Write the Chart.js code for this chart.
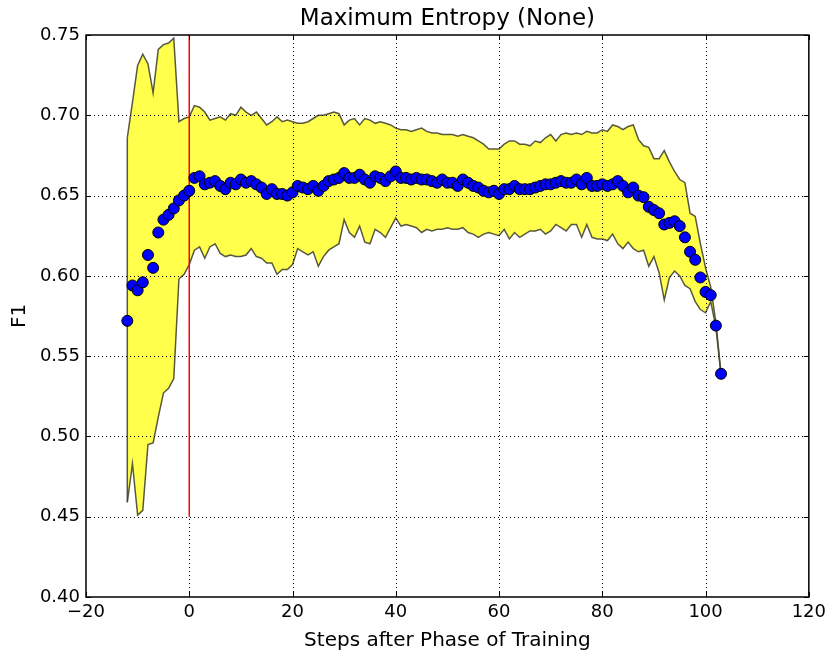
<!DOCTYPE html>
<html>
<head>
<meta charset="utf-8">
<script src="https://cdn.jsdelivr.net/npm/chart.js@4.4.1/dist/chart.umd.min.js"></script>
<style>
  body { margin: 0; background: #fff; }
  #wrap { width: 831px; height: 653px; }
</style>
</head>
<body>
<div id="wrap"><canvas id="myChart" width="831" height="653"></canvas></div>
<script>
// steps after phase of training
const steps = [-12,-11,-10,-9,-8,-7,-6,-5,-4,-3,-2,-1,0,1,2,3,4,5,6,7,8,9,10,11,12,13,14,15,16,17,18,19,20,21,22,23,24,25,26,27,28,29,30,31,32,33,34,35,36,37,38,39,40,41,42,43,44,45,46,47,48,49,50,51,52,53,54,55,56,57,58,59,60,61,62,63,64,65,66,67,68,69,70,71,72,73,74,75,76,77,78,79,80,81,82,83,84,85,86,87,88,89,90,91,92,93,94,95,96,97,98,99,100,101,102,103];

// mean F1 (blue dots)
const meanF1 = [0.572,0.594,0.591,0.596,0.613,0.605,0.627,0.635,0.638,0.642,0.647,0.650,
  0.653,0.661,0.662,0.657,0.658,0.659,0.656,0.654,0.658,0.657,0.660,0.658,0.659,0.657,0.655,0.651,0.654,0.651,0.651,0.650,
  0.652,0.656,0.655,0.654,0.656,0.653,0.656,0.659,0.660,0.661,0.664,0.661,0.661,0.663,0.660,0.658,0.662,0.661,0.659,0.662,
  0.665,0.661,0.661,0.660,0.661,0.660,0.660,0.659,0.658,0.660,0.658,0.658,0.656,0.660,0.658,0.656,0.655,0.653,0.652,0.653,
  0.651,0.654,0.654,0.656,0.654,0.654,0.654,0.655,0.656,0.657,0.657,0.658,0.659,0.658,0.658,0.660,0.657,0.661,0.656,0.656,
  0.657,0.656,0.657,0.659,0.656,0.652,0.655,0.650,0.649,0.643,0.641,0.639,0.632,0.633,0.634,0.631,0.624,0.615,0.610,0.599,
  0.590,0.588,0.569,0.539];

// upper edge of the band
const upperF1 = [0.686,0.708,0.731,0.738,0.732,0.714,0.741,0.744,0.745,0.748,0.696,0.698,
  0.699,0.706,0.705,0.702,0.697,0.698,0.699,0.697,0.701,0.700,0.705,0.702,0.700,0.702,0.698,0.694,0.696,0.699,0.696,0.697,
  0.696,0.695,0.695,0.696,0.698,0.700,0.700,0.701,0.702,0.701,0.694,0.697,0.698,0.694,0.698,0.697,0.695,0.696,0.695,0.694,
  0.692,0.691,0.691,0.690,0.691,0.692,0.690,0.689,0.689,0.688,0.688,0.688,0.687,0.688,0.687,0.686,0.684,0.682,0.679,0.679,
  0.679,0.682,0.684,0.684,0.682,0.682,0.681,0.684,0.683,0.686,0.688,0.684,0.688,0.689,0.688,0.689,0.688,0.690,0.689,0.689,
  0.691,0.690,0.694,0.693,0.691,0.693,0.694,0.685,0.681,0.680,0.673,0.673,0.678,0.671,0.665,0.660,0.658,0.639,0.637,0.620,
  0.605,0.593,0.571,0.539];

// lower edge of the band
const lowerF1 = [0.459,0.483,0.451,0.454,0.495,0.496,0.512,0.527,0.530,0.536,0.598,0.601,
  0.607,0.616,0.618,0.611,0.618,0.620,0.614,0.612,0.613,0.612,0.612,0.613,0.617,0.612,0.611,0.608,0.608,0.601,0.604,0.604,
  0.607,0.617,0.615,0.613,0.615,0.606,0.612,0.616,0.618,0.620,0.635,0.627,0.624,0.631,0.621,0.620,0.629,0.627,0.624,0.630,
  0.636,0.631,0.632,0.631,0.630,0.627,0.629,0.628,0.629,0.629,0.630,0.629,0.629,0.630,0.627,0.626,0.624,0.626,0.627,0.626,
  0.625,0.629,0.623,0.627,0.624,0.626,0.628,0.628,0.629,0.626,0.628,0.632,0.630,0.628,0.632,0.632,0.624,0.632,0.624,0.623,
  0.623,0.622,0.626,0.620,0.617,0.621,0.617,0.615,0.616,0.606,0.612,0.602,0.585,0.599,0.603,0.600,0.594,0.592,0.584,0.579,
  0.577,0.584,0.568,0.538];

// red marker line (phase boundary)
const phaseX = [0, 0];
const phaseY = [0.45, 0.75];

const xTicks = [-20, 0, 20, 40, 60, 80, 100, 120];
const yTicks = [0.40, 0.45, 0.50, 0.55, 0.60, 0.65, 0.70, 0.75];

function pts(xs, ys){
    return xs.map((x, i) => ({x: x, y: ys[i]}));
}

const fontFam = "'DejaVu Sans', sans-serif";
const edgeColor = 'rgba(70,70,50,0.9)';

// dotted grid on top of the band, plus frame and inward ticks
const axesDeco = {
    id: 'axesDeco',
    afterDatasetDraw(chart, args){
        if(args.index !== 2) return;
        const ctx = chart.ctx;
        const a = chart.chartArea;
        const sx = chart.scales.x, sy = chart.scales.y;
        ctx.save();
        ctx.strokeStyle = '#000';
        ctx.lineWidth = 1;
        ctx.setLineDash([1, 3]);
        xTicks.forEach(v => {
            const p = Math.round(sx.getPixelForValue(v)) + 0.5;
            if(p <= a.left + 1 || p >= a.right - 1) return;
            ctx.beginPath(); ctx.moveTo(p, a.top); ctx.lineTo(p, a.bottom); ctx.stroke();
        });
        yTicks.forEach(v => {
            const p = Math.round(sy.getPixelForValue(v)) + 0.5;
            if(p <= a.top + 1 || p >= a.bottom - 1) return;
            ctx.beginPath(); ctx.moveTo(a.left, p); ctx.lineTo(a.right, p); ctx.stroke();
        });
        ctx.restore();
    },
    afterDraw(chart){
        const ctx = chart.ctx;
        const a = chart.chartArea;
        const sx = chart.scales.x, sy = chart.scales.y;
        ctx.save();
        ctx.strokeStyle = '#000';
        ctx.lineWidth = 1;
        const len = 5;
        xTicks.forEach(v => {
            const p = Math.round(sx.getPixelForValue(v)) + 0.5;
            ctx.beginPath();
            ctx.moveTo(p, a.bottom); ctx.lineTo(p, a.bottom - len);
            ctx.moveTo(p, a.top); ctx.lineTo(p, a.top + len);
            ctx.stroke();
        });
        yTicks.forEach(v => {
            const p = Math.round(sy.getPixelForValue(v)) + 0.5;
            ctx.beginPath();
            ctx.moveTo(a.left, p); ctx.lineTo(a.left + len, p);
            ctx.moveTo(a.right, p); ctx.lineTo(a.right - len, p);
            ctx.stroke();
        });
        ctx.lineWidth = 1.5;
        ctx.strokeRect(a.left, a.top, a.right - a.left, a.bottom - a.top);
        ctx.restore();
    }
};

const ctx = document.getElementById('myChart');
const myChart = new Chart(ctx, {
    type: 'line',
    data: {
        datasets: [
            {
                label: 'upper',
                data: pts(steps, upperF1),
                borderColor: edgeColor,
                borderWidth: 1.5,
                backgroundColor: 'rgba(255,255,0,0.7)',
                fill: '+1',
                pointRadius: 0,
                tension: 0,
                order: 6
            },
            {
                label: 'lower',
                data: pts(steps, lowerF1),
                borderColor: edgeColor,
                borderWidth: 1.5,
                fill: false,
                pointRadius: 0,
                tension: 0,
                order: 5
            },
            {
                // closing edge of the band at the first step
                label: 'bandStart',
                data: pts([steps[0], steps[0]], [lowerF1[0], upperF1[0]]),
                borderColor: edgeColor,
                borderWidth: 1.5,
                fill: false,
                pointRadius: 0,
                order: 4
            },
            {
                label: 'phase',
                data: pts(phaseX, phaseY),
                borderColor: '#ff0000',
                borderWidth: 1.5,
                pointRadius: 0,
                fill: false,
                order: 2
            },
            {
                label: 'mean',
                data: pts(steps, meanF1),
                showLine: false,
                pointRadius: 5.5,
                pointBackgroundColor: '#0000ff',
                pointBorderColor: '#000',
                pointBorderWidth: 1,
                order: 1
            }
        ]
    },
    options: {
        responsive: false,
        animation: false,
        layout: { padding: { left: 0, right: 20, top: 0, bottom: 0 } },
        plugins: {
            legend: { display: false },
            tooltip: { enabled: false },
            title: {
                display: true,
                fullSize: false,
                text: 'Maximum Entropy (None)',
                color: '#000',
                font: { family: fontFam, size: 23, weight: 'normal', lineHeight: 1.2 },
                padding: { top: 5, bottom: 2.4 }
            }
        },
        scales: {
            x: {
                type: 'linear',
                min: -20,
                max: 120,
                afterBuildTicks: s => { s.ticks = xTicks.map(v => ({value: v})); },
                afterFit: s => { s.height = 56; },
                grid: { display: false, drawTicks: false },
                border: { display: false },
                ticks: {
                    color: '#000',
                    padding: 5,
                    maxRotation: 0,
                    font: { family: fontFam, size: 18 },
                    callback: v => (v < 0 ? '\u2212' + Math.abs(v) : '' + v)
                },
                title: {
                    display: true,
                    text: 'Steps after Phase of Training',
                    color: '#000',
                    font: { family: fontFam, size: 20, lineHeight: 1.2 },
                    padding: { top: 3, bottom: 0 }
                }
            },
            y: {
                type: 'linear',
                min: 0.40,
                max: 0.75,
                afterBuildTicks: s => { s.ticks = yTicks.map(v => ({value: v})); },
                afterFit: s => { s.width = 86; },
                grid: { display: false, drawTicks: false },
                border: { display: false },
                ticks: {
                    color: '#000',
                    padding: 6,
                    font: { family: fontFam, size: 18 },
                    callback: v => Number(v).toFixed(2)
                },
                title: {
                    display: true,
                    text: 'F1',
                    color: '#000',
                    font: { family: fontFam, size: 20, lineHeight: 1.2 },
                    padding: { top: 8, bottom: 0 }
                }
            }
        }
    },
    plugins: [axesDeco]
});
</script>
</body>
</html>
